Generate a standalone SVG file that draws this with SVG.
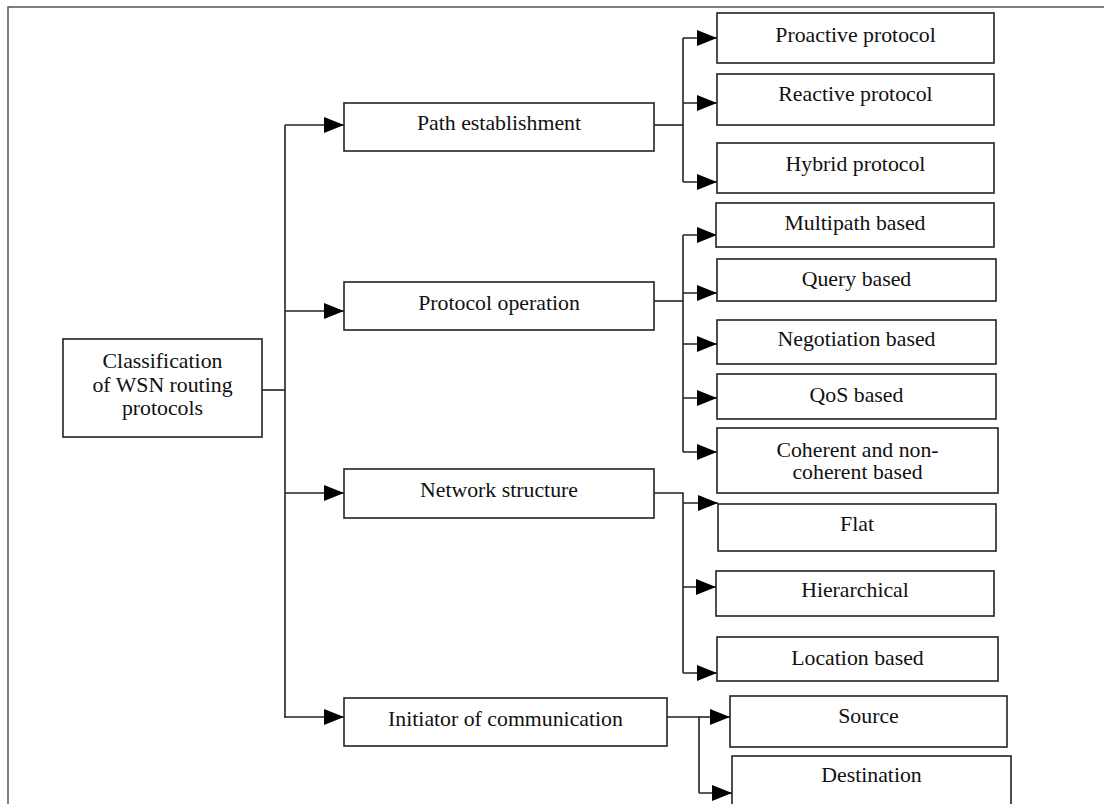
<svg xmlns="http://www.w3.org/2000/svg" width="1104" height="804" viewBox="0 0 1104 804">
<style>
.box{fill:#fff;stroke:#222;stroke-width:1.6}
.t{font-family:"Liberation Serif","Times New Roman",serif;font-size:21.8px;fill:#111;text-anchor:middle}
.ln{fill:none;stroke:#222;stroke-width:1.6}
.frame{fill:none;stroke:#555;stroke-width:1.5}
</style>
<defs>
<marker id="ah" markerUnits="userSpaceOnUse" viewBox="0 0 20 16" refX="20" refY="8" markerWidth="20" markerHeight="16" orient="auto">
<path d="M0,0 L20,8 L0,16 z" fill="#000"/>
</marker>
</defs>
<rect width="1104" height="804" fill="#fff"/>
<path class="frame" d="M8,804 V7 H1104"/>

<g id="connectors">
<path class="ln" d="M262,390 H285"/>
<path class="ln" d="M285,125 V718"/>
<path class="ln" d="M285,125 H344" marker-end="url(#ah)"/>
<path class="ln" d="M285,311 H344" marker-end="url(#ah)"/>
<path class="ln" d="M285,493 H344" marker-end="url(#ah)"/>
<path class="ln" d="M285,717 H344" marker-end="url(#ah)"/>

<path class="ln" d="M654,125 H683"/>
<path class="ln" d="M683,38 V182"/>
<path class="ln" d="M683,38 H717" marker-end="url(#ah)"/>
<path class="ln" d="M683,103 H717" marker-end="url(#ah)"/>
<path class="ln" d="M683,182 H717" marker-end="url(#ah)"/>

<path class="ln" d="M654,301 H683"/>
<path class="ln" d="M683,235 V452"/>
<path class="ln" d="M683,235 H717" marker-end="url(#ah)"/>
<path class="ln" d="M683,293 H717" marker-end="url(#ah)"/>
<path class="ln" d="M683,344 H717" marker-end="url(#ah)"/>
<path class="ln" d="M683,398 H717" marker-end="url(#ah)"/>
<path class="ln" d="M683,452 H717" marker-end="url(#ah)"/>

<path class="ln" d="M654,493 H683 V673"/>
<path class="ln" d="M683,503 H718" marker-end="url(#ah)"/>
<path class="ln" d="M683,587 H716" marker-end="url(#ah)"/>
<path class="ln" d="M683,673 H717" marker-end="url(#ah)"/>

<path class="ln" d="M667,717 H699 V793"/>
<path class="ln" d="M699,717 H730" marker-end="url(#ah)"/>
<path class="ln" d="M699,793 H732" marker-end="url(#ah)"/>
</g>

<g id="root">
<rect class="box" x="63" y="339" width="199" height="98"/>
<text class="t" x="162.5" y="368">Classification</text>
<text class="t" x="162.5" y="392">of WSN routing</text>
<text class="t" x="162.5" y="415">protocols</text>
</g>

<g id="path-establishment">
<rect class="box" x="344" y="103" width="310" height="48"/>
<text class="t" x="499" y="130">Path establishment</text>
</g>
<g id="protocol-operation">
<rect class="box" x="344" y="282" width="310" height="48"/>
<text class="t" x="499" y="310">Protocol operation</text>
</g>
<g id="network-structure">
<rect class="box" x="344" y="469" width="310" height="49"/>
<text class="t" x="499" y="497">Network structure</text>
</g>
<g id="initiator">
<rect class="box" x="344" y="698" width="323" height="48"/>
<text class="t" x="505.5" y="726">Initiator of communication</text>
</g>

<g id="proactive">
<rect class="box" x="717" y="13" width="277" height="50"/>
<text class="t" x="855.5" y="42">Proactive protocol</text>
</g>
<g id="reactive">
<rect class="box" x="717" y="74" width="277" height="51"/>
<text class="t" x="855.5" y="101">Reactive protocol</text>
</g>
<g id="hybrid">
<rect class="box" x="717" y="143" width="277" height="50"/>
<text class="t" x="855.5" y="171">Hybrid protocol</text>
</g>

<g id="multipath">
<rect class="box" x="716" y="203" width="278" height="44"/>
<text class="t" x="855" y="230">Multipath based</text>
</g>
<g id="query">
<rect class="box" x="717" y="259" width="279" height="42"/>
<text class="t" x="856.5" y="286">Query based</text>
</g>
<g id="negotiation">
<rect class="box" x="717" y="320" width="279" height="44"/>
<text class="t" x="856.5" y="346">Negotiation based</text>
</g>
<g id="qos">
<rect class="box" x="717" y="374" width="279" height="45"/>
<text class="t" x="856.5" y="402">QoS based</text>
</g>
<g id="coherent">
<rect class="box" x="717" y="428" width="281" height="65"/>
<text class="t" x="857.5" y="457">Coherent and non-</text>
<text class="t" x="857.5" y="479">coherent based</text>
</g>

<g id="flat">
<rect class="box" x="718" y="504" width="278" height="47"/>
<text class="t" x="857" y="531">Flat</text>
</g>
<g id="hierarchical">
<rect class="box" x="716" y="571" width="278" height="45"/>
<text class="t" x="855" y="597">Hierarchical</text>
</g>
<g id="location">
<rect class="box" x="717" y="637" width="281" height="44"/>
<text class="t" x="857.5" y="665">Location based</text>
</g>

<g id="source">
<rect class="box" x="730" y="696" width="277" height="51"/>
<text class="t" x="868.5" y="723">Source</text>
</g>
<g id="destination">
<rect class="box" x="732" y="756" width="279" height="60"/>
<text class="t" x="871.5" y="782">Destination</text>
</g>
</svg>
